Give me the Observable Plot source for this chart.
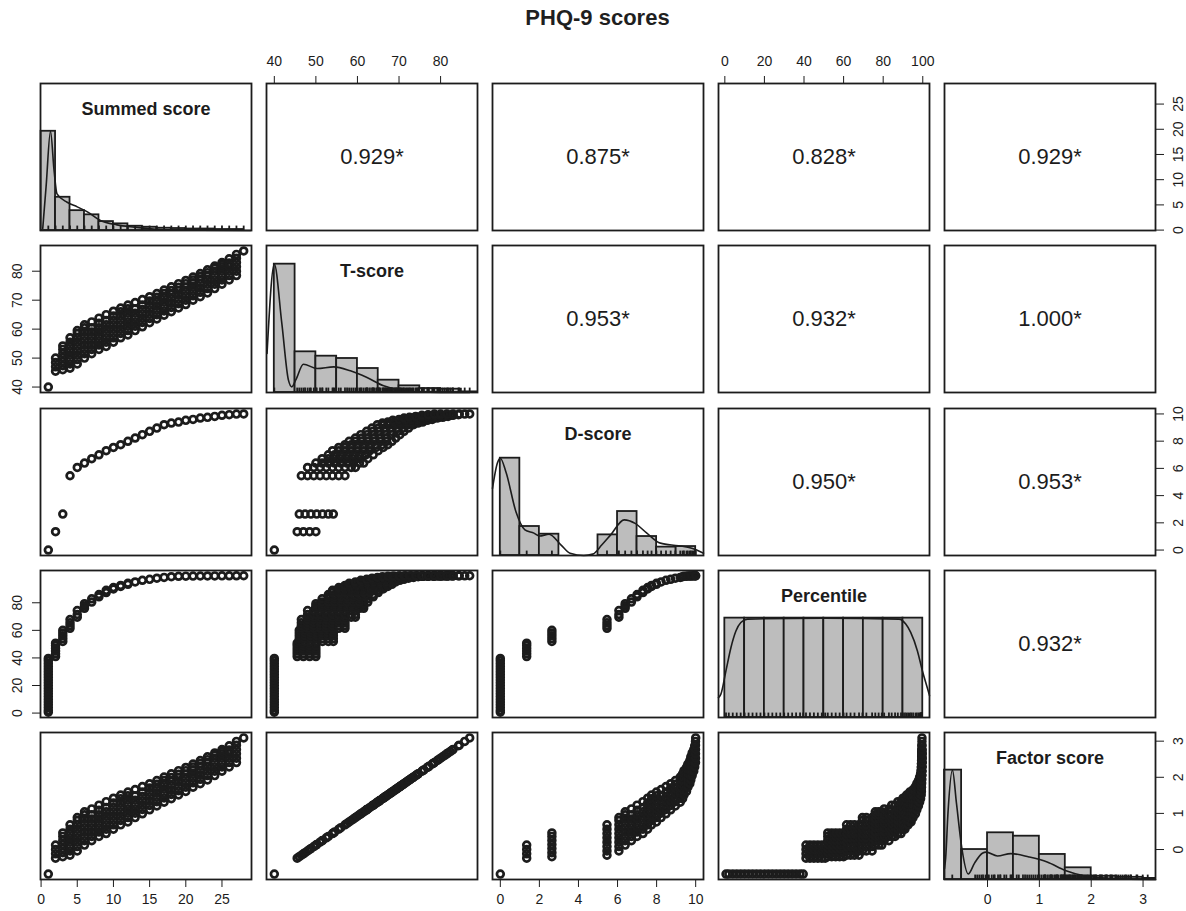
<!DOCTYPE html>
<html>
<head>
<meta charset="utf-8">
<script src="https://cdn.jsdelivr.net/npm/d3@7"></script>
<script src="https://cdn.jsdelivr.net/npm/@observablehq/plot@0.6"></script>
<style>
  html, body { margin: 0; padding: 0; background: #fff; }
  #chart { position: relative; width: 1186px; height: 911px; overflow: hidden; background: #fff;
           font-family: "Liberation Sans", Arial, Helvetica, sans-serif; color: #111; }
  #title { position: absolute; left: 40px; width: 1115px; top: 5px; text-align: center;
           font-weight: bold; font-size: 22px; line-height: 26px; color: #1f1f1f; }
  .cell { position: absolute; }
</style>
</head>
<body>
<div id="chart"><div id="title">PHQ-9 scores</div></div>
<script>
// ---------------- DATA ----------------
const variableNames = ["Summed score", "T-score", "D-score", "Percentile", "Factor score"];

// observed summed scores
const summedScores = [1,2,3,4,5,6,7,8,9,10,11,12,13,14,15,16,17,18,19,20,21,22,23,24,25,26,27,28];

// T-scores observed for each summed score (one list per summed score)
const tBySum = [
  [40],
  [45.5, 47, 48.5, 50],
  [46, 47.4, 48.8, 50.2, 51.6, 53, 54.2],
  [46.5, 48, 49.5, 51, 52.5, 54, 55.5, 57],
  [48, 49.5, 51, 52.5, 54, 55.5, 57, 58.5, 59.5],
  [50, 51.5, 53, 54.5, 56, 57.5, 59, 60.5, 61.5],
  [51.5, 53, 54.5, 56, 57.5, 59, 60.5, 62.5],
  [53, 54.5, 56, 57.5, 59, 60.5, 62, 63.8],
  [54, 55.5, 57, 58.5, 60, 61.5, 63, 65],
  [55.5, 57, 58.5, 60, 61.5, 63, 64.5, 66.2],
  [57, 58.5, 60, 61.5, 63, 64.5, 66, 67.3],
  [58, 59.5, 61, 62.5, 64, 65.5, 67, 68.3],
  [59.5, 61, 62.5, 64, 65.5, 67, 69.2],
  [60.8, 62.3, 63.8, 65.3, 66.8, 68.3, 70.2],
  [62.2, 63.7, 65.2, 66.7, 68.2, 69.7, 71.2],
  [63.5, 65, 66.5, 68, 69.5, 71, 72.3],
  [64.8, 66.3, 67.8, 69.3, 70.8, 72.3, 73.5],
  [66, 67.5, 69, 70.5, 72, 73.3, 74.6],
  [67.3, 68.8, 70.3, 71.8, 73.3, 74.5, 75.7],
  [68.5, 70, 71.5, 73, 74.5, 75.7, 76.8],
  [70, 71.5, 73, 74.5, 76, 77, 78],
  [71.2, 72.7, 74.2, 75.7, 77.2, 78.2, 79.2],
  [72.5, 74, 75.5, 77, 78.5, 79.5, 80.5],
  [74, 75.5, 77, 78.5, 80, 81, 81.8],
  [75.5, 77, 78.5, 80, 81.5, 82.3, 83],
  [77, 78.5, 80, 81.5, 82.8, 84.3],
  [78.5, 80, 81.5, 83, 84.5, 85.8],
  [87]
];

// D-score for each summed score
const dBySum = [0, 1.35, 2.64, 5.46, 6.07, 6.39, 6.71, 7.0, 7.3, 7.54, 7.74, 7.99, 8.23, 8.48,
                8.72, 8.96, 9.21, 9.33, 9.4, 9.53, 9.6, 9.7, 9.75, 9.82, 9.9, 9.95, 9.99, 10.0];

// percentiles observed for each summed score
const pctBySum = [
  [0.6, 2, 4, 6, 8, 10, 12, 14, 16, 18, 20, 22, 24, 26, 28, 30, 32, 34, 36, 38, 39.6],
  [41, 43, 45, 47, 49, 50.7],
  [52, 54, 56, 58, 60],
  [61.5, 63.5, 65.5, 67.8],
  [69.5, 71.5, 74.4],
  [76, 77.7, 79.3],
  [80.5, 82.9],
  [84.3, 86],
  [87.4, 89],
  [90, 91],
  [91.8, 92.6],
  [93.4, 94.1],
  [95.1], [96.3], [97], [97.8], [98.4], [98.9], [99.2], [99.3], [99.35], [99.4],
  [99.45], [99.5], [99.52], [99.55], [99.58], [99.6]
];

// factor score is a linear rescaling of the T-score (r = 1.000): anchors
const factorAnchorT = [40, 87];
const factorAnchorF = [-0.68, 3.09];

// correlations shown in the upper panels
const corrRow = [0, 0, 0, 0, 1, 1, 1, 2, 2, 3];
const corrCol = [1, 2, 3, 4, 2, 3, 4, 3, 4, 4];
const corrText = ["0.929*", "0.875*", "0.828*", "0.929*", "0.953*", "0.932*", "1.000*", "0.950*", "0.953*", "0.932*"];

// axis ranges and tick values
const axisDomains = [[-0.08, 29.08], [38.12, 88.88], [-0.4, 10.4], [-3.2, 103.4], [-0.83, 3.24]];
const xTicks = [[0, 5, 10, 15, 20, 25], [40, 50, 60, 70, 80], [0, 2, 4, 6, 8, 10], [0, 20, 40, 60, 80, 100], [0, 1, 2, 3]];
const yTicks = [[0, 5, 10, 15, 20, 25], [40, 50, 60, 70, 80], [0, 2, 4, 6, 8, 10], [0, 20, 40, 60, 80], [0, 1, 2, 3]];

// histograms (bar heights relative to the tallest bar)
const summedBinEdges = [0, 2, 4, 6, 8, 10, 12, 14, 16, 18, 20, 22, 24, 26, 28];
const summedBinHeights = [1, 0.335, 0.2, 0.158, 0.09, 0.067, 0.043, 0.033, 0.023, 0.02, 0.015, 0.015, 0.01, 0.01];
const tBinEdges = [40, 45, 50, 55, 60, 65, 70, 75, 80, 85, 90];
const tBinHeights = [1, 0.317, 0.283, 0.265, 0.187, 0.096, 0.052, 0.031, 0.026, 0.005];
const dBinEdges = [0, 1, 2, 3, 4, 5, 6, 7, 8, 9, 10];
const dBinHeights = [1, 0.298, 0.219, 0, 0, 0.212, 0.452, 0.195, 0.086, 0.092];
const pctBinEdges = [0, 10, 20, 30, 40, 50, 60, 70, 80, 90, 100];
const pctBinHeights = [1, 1, 1, 1, 1, 1, 1, 1, 1, 1];
const fBinEdges = [-1, -0.5, 0, 0.5, 1, 1.5, 2, 2.5, 3, 3.5];
const fBinHeights = [1, 0.274, 0.427, 0.396, 0.229, 0.107, 0.03, 0.02, 0.01];

// density curves (same relative units)
const summedDensity = [[0.23, 0.02], [0.7, 0.45], [1.3, 1.0], [1.8, 0.6], [2.2, 0.37], [3.6, 0.285], [5.0, 0.238],
  [6.4, 0.188], [8.2, 0.1], [10.5, 0.057], [12.9, 0.034], [15.2, 0.017], [17.5, 0.007], [22, 0.003], [29, 0]];
const tDensity = [[38.25, 0.304], [40, 1], [41.8, 0.54], [43.4, 0.096], [44.2, 0.044], [45.2, 0.1], [47, 0.22],
  [50.3, 0.187], [54.3, 0.2], [58.3, 0.169], [62.3, 0.117], [66.3, 0.052], [70.3, 0.018], [75.1, 0.005], [87, 0]];
const dDensity = [[-0.4, 0.69], [-0.15, 0.95], [0, 1], [0.3, 0.85], [0.8, 0.45], [1.26, 0.264], [1.72, 0.23],
  [2.0, 0.2], [2.5, 0.219], [3.1, 0.11], [3.57, 0.024], [4.27, 0], [4.73, 0.014], [5.2, 0.11], [5.65, 0.212],
  [6.34, 0.366], [6.9, 0.33], [7.5, 0.23], [8.19, 0.127], [9.12, 0.1], [9.8, 0.075], [10.4, 0.024]];
const pctDensity = [[-3.2, 0.2], [-2, 0.235], [0.56, 0.47], [3.1, 0.705], [5.6, 0.87], [8.1, 0.956], [11.5, 0.99],
  [50, 1], [88, 0.99], [91.4, 0.94], [93.9, 0.856], [97.3, 0.67], [99.8, 0.47], [103.2, 0.235], [103.4, 0.22]];
const fDensity = [[-0.83, 0.1], [-0.807, 0.2], [-0.764, 0.6], [-0.677, 1.0], [-0.6, 0.7], [-0.5, 0.3], [-0.373, 0.05],
  [-0.25, 0.15], [-0.1, 0.24], [-0.025, 0.25], [0.19, 0.215], [0.45, 0.237], [0.8, 0.206], [1.15, 0.16],
  [1.5, 0.083], [1.84, 0.037], [2.36, 0.012], [3.14, 0], [3.24, 0]];

// how high the tallest histogram bar reaches, as share of the panel height
const histTopShare = [0.675, 0.873, 0.662, 0.676, 0.744];

// ---------------- BUILD ----------------
const toFactor = d3.scaleLinear(factorAnchorT, factorAnchorF);
const records = [];
summedScores.forEach((s, k) => {
  for (const t of tBySum[k]) for (const p of pctBySum[k])
    records.push({s, t, d: dBySum[k], p, f: toFactor(t)});
});
const keys = ["s", "t", "d", "p", "f"];

const histEdges = [summedBinEdges, tBinEdges, dBinEdges, pctBinEdges, fBinEdges];
const histHeights = [summedBinHeights, tBinHeights, dBinHeights, pctBinHeights, fBinHeights];
const densities = [summedDensity, tDensity, dDensity, pctDensity, fDensity];
const rugValues = [
  summedScores,
  Array.from(new Set(tBySum.flat())),
  dBySum,
  pctBySum.flat(),
  Array.from(new Set(tBySum.flat())).map(toFactor)
];

// layout
const W = 211, H = 147, M = 44;
const colLeft = [40, 266, 492, 718, 944];
const rowTop = [83, 245, 407.5, 570, 732];
const INK = "#1c1c1c";
const FONT = "'Liberation Sans', Arial, Helvetica, sans-serif";

function xAxisSide(i, j) {
  if (i === 0 && (j === 1 || j === 3)) return "top";
  if (i === 4 && j % 2 === 0) return "bottom";
  return null;
}
function yAxisSide(i, j) {
  if (j === 0 && (i === 1 || i === 3)) return "left";
  if (j === 4 && i % 2 === 0) return "right";
  return null;
}

function xLabelMarks(j, side) {
  return Plot.text(xTicks[j], {
    x: d => d, frameAnchor: side, dy: side === "top" ? -21.5 : 20,
    text: d => String(d), fontSize: 14, fill: INK, lineAnchor: "middle"
  });
}
function yLabelMarks(i, side) {
  return Plot.text(yTicks[i], {
    y: d => d, frameAnchor: side, dx: side === "left" ? -23 : 23, rotate: -90,
    text: d => String(d), fontSize: 14, fill: INK, textAnchor: "middle", lineAnchor: "middle"
  });
}

function basePlot(xd, yd, xs, ys, xt, yt, marks) {
  return Plot.plot({
    width: W + 2 * M, height: H + 2 * M,
    marginTop: M, marginBottom: M, marginLeft: M, marginRight: M,
    x: {domain: xd, axis: xs, ticks: xt, tickSize: 8, tickFormat: () => "", label: null},
    y: {domain: yd, axis: ys, ticks: yt, tickSize: 8, tickFormat: () => "", label: null},
    style: `background:transparent;overflow:visible;max-width:none;font-family:${FONT};font-size:14px;color:${INK};`,
    marks
  });
}

const chart = document.getElementById("chart");
function place(svg, i, j) {
  const div = document.createElement("div");
  div.className = "cell";
  div.style.left = (colLeft[j] - M) + "px";
  div.style.top = (rowTop[i] - M) + "px";
  div.appendChild(svg);
  chart.appendChild(div);
}

for (let i = 0; i < 5; i++) {
  for (let j = 0; j < 5; j++) {
    const xd = axisDomains[j];
    const isDiag = i === j;
    const yd = isDiag ? [0, 1 / histTopShare[i]] : axisDomains[i];
    const xs = xAxisSide(i, j);
    const ys = isDiag ? null : yAxisSide(i, j);
    const marks = [];
    if (isDiag) {
      const edges = histEdges[i];
      const bins = histHeights[i].map((h, k) => ({
        x1: Math.max(edges[k], xd[0]), x2: Math.min(edges[k + 1], xd[1]), h
      }));
      marks.push(Plot.rect(bins, {x1: "x1", x2: "x2", y1: 0, y2: "h", fill: "#bdbdbd", stroke: INK, strokeWidth: 1.8}));
      marks.push(Plot.line(densities[i], {x: d => d[0], y: d => d[1], stroke: INK, strokeWidth: 1.6, curve: "monotone-x"}));
      const rugLen = 0.03 * (yd[1] - yd[0]);
      marks.push(Plot.ruleX(rugValues[i], {x: d => d, y1: 0, y2: rugLen, stroke: INK, strokeWidth: 1.8}));
      marks.push(Plot.text([variableNames[i]], {frameAnchor: "top", dy: 26, lineAnchor: "middle", text: d => d, fontSize: 18, fontWeight: "bold", fill: INK}));
    } else if (i > j) {
      const kx = keys[j], ky = keys[i];
      const seen = new Map();
      for (const r of records) {
        const key = r[kx].toFixed(3) + "|" + r[ky].toFixed(3);
        if (!seen.has(key)) seen.set(key, {x: r[kx], y: r[ky]});
      }
      marks.push(Plot.dot(Array.from(seen.values()), {x: "x", y: "y", r: 3.4, stroke: INK, strokeWidth: 2.7, fill: "none"}));
    } else {
      const k = corrText.findIndex((_, n) => corrRow[n] === i && corrCol[n] === j);
      marks.push(Plot.text([corrText[k]], {frameAnchor: "middle", text: d => d, fontSize: 22, fill: INK}));
    }
    marks.push(Plot.frame({stroke: INK, strokeWidth: 1.8}));
    if (xs) marks.push(xLabelMarks(j, xs));
    if (ys) marks.push(yLabelMarks(i, ys));
    place(basePlot(xd, yd, xs, ys, xTicks[j], yTicks[i], marks), i, j);

    // the diagonal factor panel carries the factor-score y axis on its right side
    if (isDiag && yAxisSide(i, j)) {
      const side = yAxisSide(i, j);
      place(basePlot(xd, axisDomains[i], null, side, xTicks[j], yTicks[i], [yLabelMarks(i, side)]), i, j);
    }
  }
}
</script>
</body>
</html>
